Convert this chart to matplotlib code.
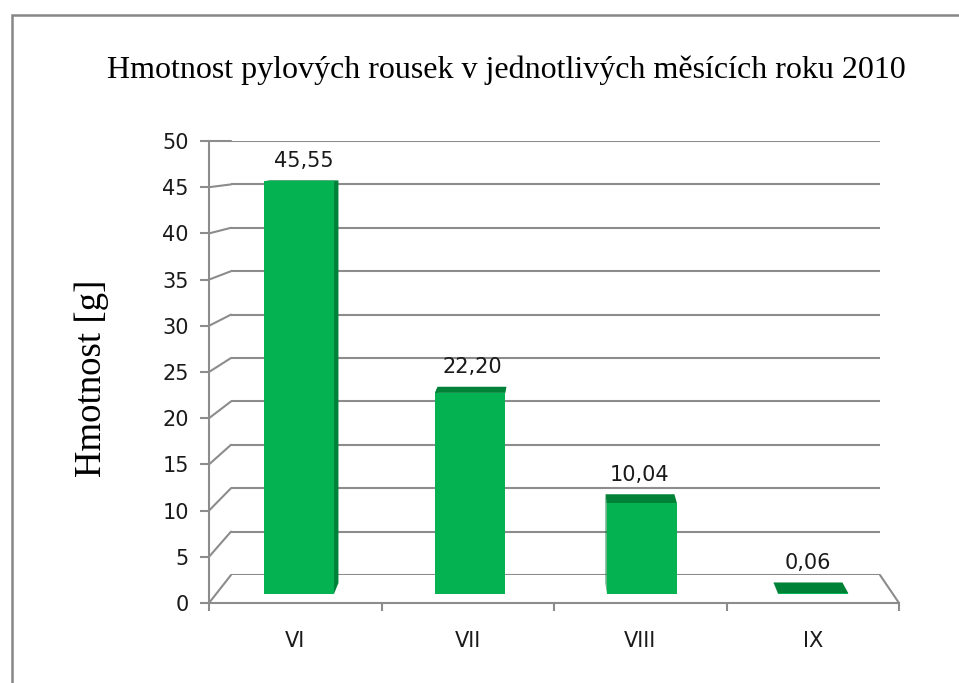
import numpy as np
import matplotlib
matplotlib.use("Agg")
import matplotlib.pyplot as plt
from matplotlib.patches import Polygon, Rectangle, ConnectionPatch

# data
months = ["VI", "VII", "VIII", "IX"]
mass_g = [45.55, 22.20, 10.04, 0.06]
labels = ["45,55", "22,20", "10,04", "0,06"]
yticks = np.arange(0, 51, 5)

W, H = 959, 683
GRAY = "#8c8c8c"
GREEN = "#05b251"
DARK = "#008138"


def px_rect(x0, y_top, x1, y_bot):
    # pixel box -> figure fraction rect
    return [x0 / W, 1 - y_bot / H, (x1 - x0) / W, (y_bot - y_top) / H]


fig = plt.figure(figsize=(W / 100, H / 100), dpi=100)

# outer frame (right and bottom edges fall outside the picture)
fig.add_artist(Rectangle((12 / W, -0.1), 1.2, 1.1 - 15 / H, transform=fig.transFigure,
                         fill=False, ec="#878787", lw=1.8))

# back wall with gridlines
wall = fig.add_axes(px_rect(231, 141, 880, 575))
wall.set_xlim(0, 1)
wall.set_ylim(0, 50)
wall.axis("off")
for v in yticks:
    wall.axhline(v, color=GRAY, lw=1.5)

# front axes: value axis and floor line
front = fig.add_axes(px_rect(209, 141, 899, 603))
front.set_facecolor("none")
front.set_xlim(-0.5, 3.5)
front.set_ylim(0, 50)
for s in ["top", "right"]:
    front.spines[s].set_visible(False)
for s in ["left", "bottom"]:
    front.spines[s].set_color(GRAY)
    front.spines[s].set_linewidth(1.5)
front.set_yticks(yticks)
front.set_yticklabels([str(v) for v in yticks])
front.tick_params(axis="y", direction="out", length=6.5, width=1.5, color=GRAY,
                  pad=8, labelsize=15, labelcolor="#1a1a1a")
front.set_xticks(np.arange(-0.5, 3.6, 1))
front.set_xticklabels([])
front.tick_params(axis="x", which="major", direction="out", length=6, width=1.5, color=GRAY)
front.set_xticks(range(len(months)), minor=True)
front.set_xticklabels(months, minor=True)
front.tick_params(axis="x", which="minor", length=0, pad=20, labelsize=15,
                  labelcolor="#1a1a1a")

# side walls: front tick -> back gridline
for v in yticks:
    fig.add_artist(ConnectionPatch(xyA=(-0.5, v), coordsA=front.transData,
                                   xyB=(0, v), coordsB=wall.transData,
                                   color=GRAY, lw=1.5))
fig.add_artist(ConnectionPatch(xyA=(3.5, 0), coordsA=front.transData,
                               xyB=(1, 0), coordsB=wall.transData,
                               color=GRAY, lw=1.5))

# bars: front plane and back plane of the boxes
barf = fig.add_axes(px_rect(213, 141, 899, 594))
barb = fig.add_axes(px_rect(220, 141, 892, 583))
for a in (barf, barb):
    a.set_xlim(-0.5, 3.5)
    a.set_ylim(0, 50)
    a.axis("off")

vx = 0.2  # data x of the vanishing point on the bar planes


def to_front(pts):
    return barf.transData.inverted().transform(barb.transData.transform(pts))


w = 0.41
for i, v in enumerate(mass_g):
    x0, x1 = i - w / 2, i + w / 2
    b = to_front([(x0, 0), (x1, 0), (x1, v), (x0, v)])
    # side face
    if i < vx:
        side = [(x1, 0), (x1, v), tuple(b[2]), tuple(b[1])]
    else:
        side = [(x0, 0), (x0, v), tuple(b[3]), tuple(b[0])]
    barf.add_patch(Polygon(side, closed=True, fc=DARK, ec="none", zorder=2))
    # top face
    top = [(x0, v), (x1, v), tuple(b[2]), tuple(b[3])]
    barf.add_patch(Polygon(top, closed=True, fc=DARK, ec="none", zorder=2))
    barf.bar(i, v, width=w, color=GREEN, zorder=3)
    barb.annotate(labels[i], (i, v), xytext=(0, 7), textcoords="offset points",
                  ha="center", va="bottom", fontsize=15, color="#1a1a1a")

# texts
fig.text(506 / W, 1 - 78 / H, "Hmotnost pylových rousek v jednotlivých měsících roku 2010",
         family="Liberation Serif", fontsize=23, ha="center", va="baseline")
fig.text(92 / W, 1 - 378 / H, "Hmotnost [g]", family="Liberation Serif", fontsize=26.5,
         rotation=90, ha="center", va="center")

fig.savefig("out.png", dpi=100)
